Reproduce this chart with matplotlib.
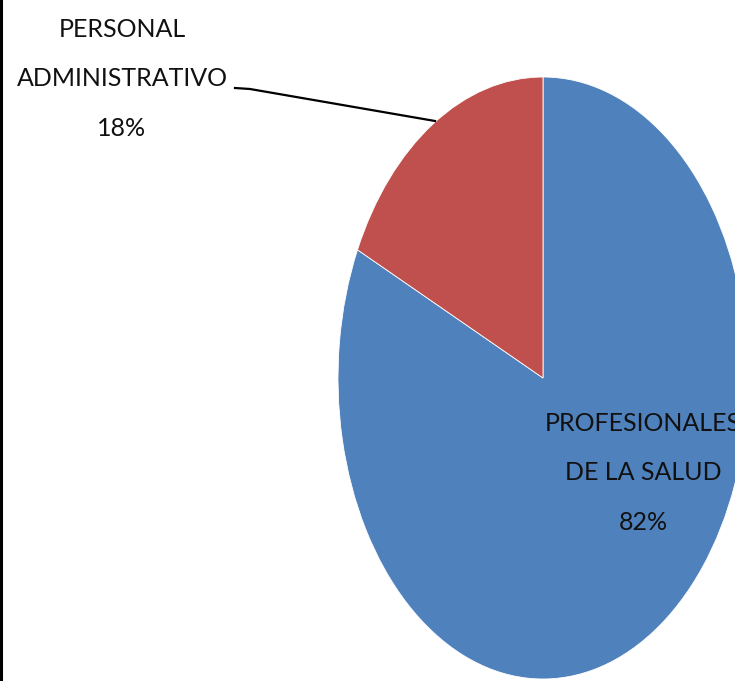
import matplotlib
matplotlib.use("Agg")
import matplotlib.pyplot as plt
from matplotlib.lines import Line2D

# data
labels = ["PROFESIONALES\nDE LA SALUD", "PERSONAL\nADMINISTRATIVO"]
values = [82, 18]
colors = ["#4F81BD", "#C0504D"]

W, H = 735, 681
fig = plt.figure(figsize=(W / 100, H / 100), dpi=100)
ax = fig.add_axes([0, 0, 1, 1])

ax.pie(values, colors=colors, startangle=90, counterclock=False, radius=1,
       wedgeprops=dict(edgecolor="white", linewidth=0.6))

# pie is stretched vertically in the picture: rx ~205px, ry ~301px, centre (543, 378)
cx, cy, rx, ry = 543, 378, 205, 301
ax.set_aspect("auto")
ax.set_xlim(-cx / rx, (W - cx) / rx)
ax.set_ylim(-(H - cy) / ry, cy / ry)
ax.axis("off")

fam = ["Lato", "DejaVu Sans"]
def px(x, y):
    return x / W, 1 - y / H

pct = ["%d%%" % v for v in values]
fig.text(*px(643, 473), labels[0] + "\n" + pct[0], ha="center", va="center",
         fontsize=18, family=fam, linespacing=2.42, color="#111111")
fig.text(*px(122, 79), labels[1] + "\n" + pct[1], ha="center", va="center",
         fontsize=18, family=fam, linespacing=2.42, color="#111111")

# leader line
xs, ys = zip(*[px(235, 88), px(250, 89), px(435, 121)])
fig.add_artist(Line2D(xs, ys, color="black", lw=1.6, transform=fig.transFigure))

# left border
fig.add_artist(Line2D([0.0015, 0.0015], [0, 1], color="black", lw=2.2,
                      transform=fig.transFigure))

fig.savefig("out.png", dpi=100, facecolor="white")
